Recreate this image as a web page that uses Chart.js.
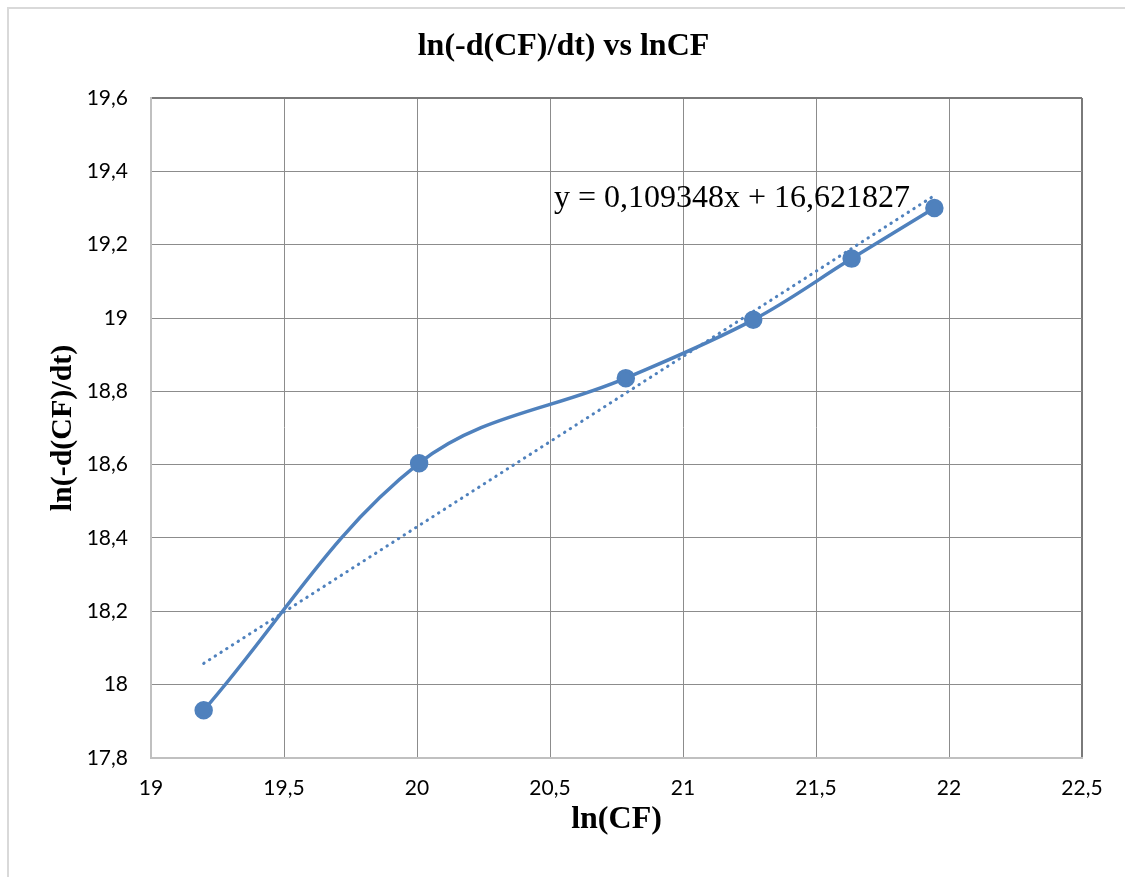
<!DOCTYPE html>
<html>
<head>
<meta charset="utf-8">
<script src="https://cdn.jsdelivr.net/npm/chart.js@4/dist/chart.umd.min.js"></script>
<style>
  body { margin: 0; background: #fff; }
  .wrap { position: relative; width: 1125px; height: 877px; }
  .frame { position: absolute; left: 7px; top: 7px; right: -10px; bottom: -10px;
           border-top: 2px solid #d9d9d9; border-left: 2px solid #d9d9d9; pointer-events: none; }
  canvas { position: absolute; left: 0; top: 0; }
</style>
</head>
<body>
<div class="wrap">
  <canvas id="graph" width="1125" height="877"></canvas>
  <div class="frame"></div>
</div>
<script>
// values
const lnCF = [19.198, 20.008, 20.785, 21.264, 21.634, 21.945];
const lnRate = [17.930, 18.604, 18.836, 18.995, 19.162, 19.300];
// dotted trend line, its two end points
const trendX = [19.198, 21.945];
const trendY = [18.058, 19.334];

const titleText = 'ln(-d(CF)/dt) vs lnCF';
const xTitle = 'ln(CF)';
const yTitle = 'ln(-d(CF)/dt)';
const eqText = 'y = 0,109348x + 16,621827';

const blue = '#4f81bd';
const comma = v => String(Math.round(v * 10) / 10).replace('.', ',');

const pts = lnCF.map((x, i) => ({ x: x, y: lnRate[i] }));
const trend = trendX.map((x, i) => ({ x: x, y: trendY[i] }));

const eqLabel = {
  id: 'eqLabel',
  afterDatasetsDraw(chart) {
    const ctx = chart.ctx;
    const xs = chart.scales.x, ys = chart.scales.y;
    ctx.save();
    ctx.font = '32px "Liberation Serif"';
    ctx.fillStyle = '#000';
    ctx.textAlign = 'left';
    ctx.textBaseline = 'alphabetic';
    ctx.fillText(eqText, xs.getPixelForValue(20.515), ys.getPixelForValue(19.303));
    ctx.restore();
  }
};

const config = {
  type: 'scatter',
  data: {
    datasets: [
      {
        label: 'data',
        data: pts,
        showLine: true,
        borderColor: blue,
        backgroundColor: blue,
        borderWidth: 3.5,
        pointRadius: 7.5,
        pointHoverRadius: 7.5,
        tension: 0.36,
        order: 1
      },
      {
        label: 'trend',
        data: trend,
        showLine: true,
        borderColor: blue,
        borderWidth: 3,
        borderDash: [0.5, 6.3],
        borderCapStyle: 'round',
        pointRadius: 0,
        order: 2
      }
    ]
  },
  options: {
    responsive: false,
    animation: false,
    layout: { padding: { top: 28, left: 45, right: 43, bottom: 38 } },
    plugins: {
      legend: { display: false },
      tooltip: { enabled: false },
      title: {
        display: true,
        text: titleText,
        color: '#000',
        font: { family: '"Liberation Serif"', size: 32, weight: 'bold', lineHeight: 1.2 },
        padding: { top: 0, bottom: 31.6 }
      }
    },
    scales: {
      x: {
        type: 'linear',
        min: 19,
        max: 22.5,
        afterFit: s => { s.height = 81; },
        ticks: {
          stepSize: 0.5,
          padding: 18,
          color: '#000',
          font: { family: 'Lato', size: 21 },
          callback: comma,
          maxRotation: 0
        },
        grid: {
          color: ctx => ctx.index === 7 ? '#7a7a7a' : '#8c8c8c',
          lineWidth: ctx => ctx.index === 7 ? 2 : 1,
          drawTicks: false
        },
        border: { color: '#c0c0c0', width: 2 },
        title: {
          display: true,
          text: xTitle,
          color: '#000',
          font: { family: '"Liberation Serif"', size: 32, weight: 'bold', lineHeight: 1.2 },
          padding: 0
        }
      },
      y: {
        min: 17.8,
        max: 19.6,
        afterFit: s => { s.width = 106; },
        ticks: {
          stepSize: 0.2,
          padding: 23,
          color: '#000',
          font: { family: 'Lato', size: 21 },
          callback: comma
        },
        grid: {
          color: ctx => ctx.index === 9 ? '#7a7a7a' : '#8c8c8c',
          lineWidth: ctx => ctx.index === 9 ? 2 : 1,
          drawTicks: false
        },
        border: { color: '#c0c0c0', width: 2 },
        title: {
          display: true,
          text: yTitle,
          color: '#000',
          font: { family: '"Liberation Serif"', size: 30, weight: 'bold', lineHeight: 1.2 },
          padding: 0
        }
      }
    }
  },
  plugins: [eqLabel]
};

const canvas = document.querySelector('#graph');
const myChart = new Chart(canvas, config);
</script>
</body>
</html>
